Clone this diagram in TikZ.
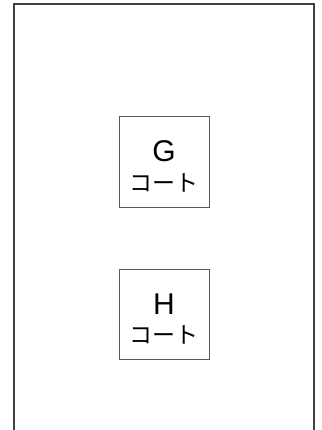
\documentclass[tikz,border=0pt]{standalone}
\usepackage{fontspec}
\newfontfamily\jpfont{Noto Sans CJK JP}
\newfontfamily\lfont{Liberation Sans}
\usetikzlibrary{positioning}
\begin{document}
\begin{tikzpicture}[x=1pt,y=-1pt]
\tikzstyle{frame}=[draw,line width=2.4pt,color=black!75]
\tikzstyle{court}=[draw,color=black!65,line width=1pt,minimum size=90pt,inner sep=0pt,text=black!85]
\tikzstyle{letter}=[anchor=base,inner sep=0pt,font=\lfont\fontsize{30}{30}\selectfont]
\tikzstyle{kana}=[anchor=base,inner sep=0pt,font=\jpfont\fontsize{23}{23}\selectfont]
\clip(0,0)rectangle(321,430);
\fill[white](0,0)rectangle(321,430);
\path[frame](14,4)--(314,4)--(314,440)--(14,440)--cycle;
\node[court](g)at(164,162){};
\node[court,below=61pt of g](h){};
\node[letter](gname)at(g.center){G};
\node[kana,yshift=-29pt](gkana)at(g.center){コート};
\node[letter](hname)at(h.center){H};
\node[kana,yshift=-29pt](hkana)at(h.center){コート};
\end{tikzpicture}
\end{document}
